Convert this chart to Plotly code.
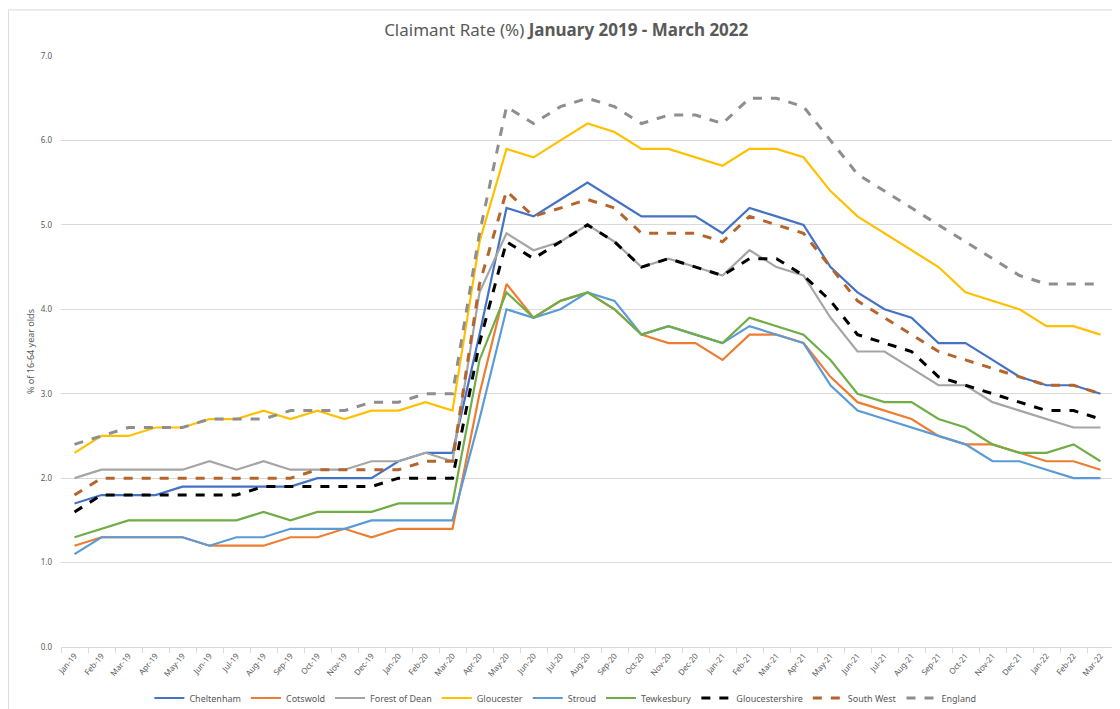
import plotly.graph_objects as go

months = ["Jan-19", "Feb-19", "Mar-19", "Apr-19", "May-19", "Jun-19", "Jul-19", "Aug-19",
          "Sep-19", "Oct-19", "Nov-19", "Dec-19", "Jan-20", "Feb-20", "Mar-20", "Apr-20",
          "May-20", "Jun-20", "Jul-20", "Aug-20", "Sep-20", "Oct-20", "Nov-20", "Dec-20",
          "Jan-21", "Feb-21", "Mar-21", "Apr-21", "May-21", "Jun-21", "Jul-21", "Aug-21",
          "Sep-21", "Oct-21", "Nov-21", "Dec-21", "Jan-22", "Feb-22", "Mar-22"]

cheltenham = [1.7, 1.8, 1.8, 1.8, 1.9, 1.9, 1.9, 1.9, 1.9, 2.0, 2.0, 2.0,
              2.2, 2.3, 2.3, 3.7, 5.2, 5.1, 5.3, 5.5, 5.3, 5.1, 5.1, 5.1,
              4.9, 5.2, 5.1, 5.0, 4.5, 4.2, 4.0, 3.9, 3.6, 3.6, 3.4, 3.2,
              3.1, 3.1, 3.0]
cotswold = [1.2, 1.3, 1.3, 1.3, 1.3, 1.2, 1.2, 1.2, 1.3, 1.3, 1.4, 1.3,
            1.4, 1.4, 1.4, 3.0, 4.3, 3.9, 4.1, 4.2, 4.0, 3.7, 3.6, 3.6,
            3.4, 3.7, 3.7, 3.6, 3.2, 2.9, 2.8, 2.7, 2.5, 2.4, 2.4, 2.3,
            2.2, 2.2, 2.1]
forest_of_dean = [2.0, 2.1, 2.1, 2.1, 2.1, 2.2, 2.1, 2.2, 2.1, 2.1, 2.1, 2.2,
                  2.2, 2.3, 2.2, 4.2, 4.9, 4.7, 4.8, 5.0, 4.8, 4.5, 4.6, 4.5,
                  4.4, 4.7, 4.5, 4.4, 3.9, 3.5, 3.5, 3.3, 3.1, 3.1, 2.9, 2.8,
                  2.7, 2.6, 2.6]
gloucester = [2.3, 2.5, 2.5, 2.6, 2.6, 2.7, 2.7, 2.8, 2.7, 2.8, 2.7, 2.8,
              2.8, 2.9, 2.8, 4.8, 5.9, 5.8, 6.0, 6.2, 6.1, 5.9, 5.9, 5.8,
              5.7, 5.9, 5.9, 5.8, 5.4, 5.1, 4.9, 4.7, 4.5, 4.2, 4.1, 4.0,
              3.8, 3.8, 3.7]
stroud = [1.1, 1.3, 1.3, 1.3, 1.3, 1.2, 1.3, 1.3, 1.4, 1.4, 1.4, 1.5,
          1.5, 1.5, 1.5, 2.7, 4.0, 3.9, 4.0, 4.2, 4.1, 3.7, 3.8, 3.7,
          3.6, 3.8, 3.7, 3.6, 3.1, 2.8, 2.7, 2.6, 2.5, 2.4, 2.2, 2.2,
          2.1, 2.0, 2.0]
tewkesbury = [1.3, 1.4, 1.5, 1.5, 1.5, 1.5, 1.5, 1.6, 1.5, 1.6, 1.6, 1.6,
              1.7, 1.7, 1.7, 3.4, 4.2, 3.9, 4.1, 4.2, 4.0, 3.7, 3.8, 3.7,
              3.6, 3.9, 3.8, 3.7, 3.4, 3.0, 2.9, 2.9, 2.7, 2.6, 2.4, 2.3,
              2.3, 2.4, 2.2]
gloucestershire = [1.6, 1.8, 1.8, 1.8, 1.8, 1.8, 1.8, 1.9, 1.9, 1.9, 1.9, 1.9,
                   2.0, 2.0, 2.0, 3.6, 4.8, 4.6, 4.8, 5.0, 4.8, 4.5, 4.6, 4.5,
                   4.4, 4.6, 4.6, 4.4, 4.1, 3.7, 3.6, 3.5, 3.2, 3.1, 3.0, 2.9,
                   2.8, 2.8, 2.7]
south_west = [1.8, 2.0, 2.0, 2.0, 2.0, 2.0, 2.0, 2.0, 2.0, 2.1, 2.1, 2.1,
              2.1, 2.2, 2.2, 4.3, 5.4, 5.1, 5.2, 5.3, 5.2, 4.9, 4.9, 4.9,
              4.8, 5.1, 5.0, 4.9, 4.5, 4.1, 3.9, 3.7, 3.5, 3.4, 3.3, 3.2,
              3.1, 3.1, 3.0]
england = [2.4, 2.5, 2.6, 2.6, 2.6, 2.7, 2.7, 2.7, 2.8, 2.8, 2.8, 2.9,
           2.9, 3.0, 3.0, 4.9, 6.4, 6.2, 6.4, 6.5, 6.4, 6.2, 6.3, 6.3,
           6.2, 6.5, 6.5, 6.4, 6.0, 5.6, 5.4, 5.2, 5.0, 4.8, 4.6, 4.4,
           4.3, 4.3, 4.3]

series = [
    ("Cheltenham", cheltenham, "#4472C4", "solid"),
    ("Cotswold", cotswold, "#ED7D31", "solid"),
    ("Forest of Dean", forest_of_dean, "#A5A5A5", "solid"),
    ("Gloucester", gloucester, "#FFC000", "solid"),
    ("Stroud", stroud, "#5B9BD5", "solid"),
    ("Tewkesbury", tewkesbury, "#70AD47", "solid"),
    ("Gloucestershire", gloucestershire, "#000000", "dash"),
    ("South West", south_west, "#B5652C", "dash"),
    ("England", england, "#8E8E8E", "dash"),
]

fig = go.Figure()
for name, vals, color, dash in series:
    fig.add_trace(go.Scatter(
        x=months, y=vals, name=name, mode="lines",
        line=dict(color=color, width=3 if dash == "dash" else 2.2, dash=dash),
    ))

# page body has an 8px margin, so the figure is a little smaller than the window
grey = "#595959"
fig.update_layout(
    width=1112, height=701,
    margin=dict(l=53, r=6, t=48, b=62, autoexpand=False),
    paper_bgcolor="white", plot_bgcolor="white",
    font=dict(family="Noto Sans", color=grey),
    title=dict(
        text="Claimant Rate (%) <b>January 2019 - March 2022</b>",
        x=0.502, xref="container", xanchor="center",
        y=0.969, yref="container", yanchor="middle",
        font=dict(size=17, color=grey),
    ),
    legend=dict(
        orientation="h", x=0.479, xanchor="center",
        y=0.0157, yref="container", yanchor="middle",
        font=dict(size=9, color=grey), itemwidth=30, tracegroupgap=0,
    ),
    showlegend=True,
)
fig.update_xaxes(
    type="category", range=[-0.5, 38.5], tickangle=-50, automargin=False,
    tickfont=dict(size=8, color=grey),
    showgrid=False, showline=True, linecolor="#d9d9d9", linewidth=1,
    ticks="outside", tickson="boundaries", ticklen=5, tickcolor="#d9d9d9",
)
fig.update_yaxes(
    range=[0, 7], dtick=1, tickformat=".1f", automargin=False,
    tickfont=dict(size=8, color=grey), ticklabelstandoff=8,
    showgrid=True, gridcolor="#d9d9d9", gridwidth=1,
    zeroline=False, showline=False,
    title=dict(text="% of 16-64 year olds", font=dict(size=9, color=grey), standoff=4),
)
fig.add_shape(type="rect", xref="paper", yref="paper",
              x0=-0.05, x1=1.0052, y0=-0.108, y1=1.078,
              line=dict(color="#d9d9d9", width=1), layer="below")

fig.write_html("out.html")
